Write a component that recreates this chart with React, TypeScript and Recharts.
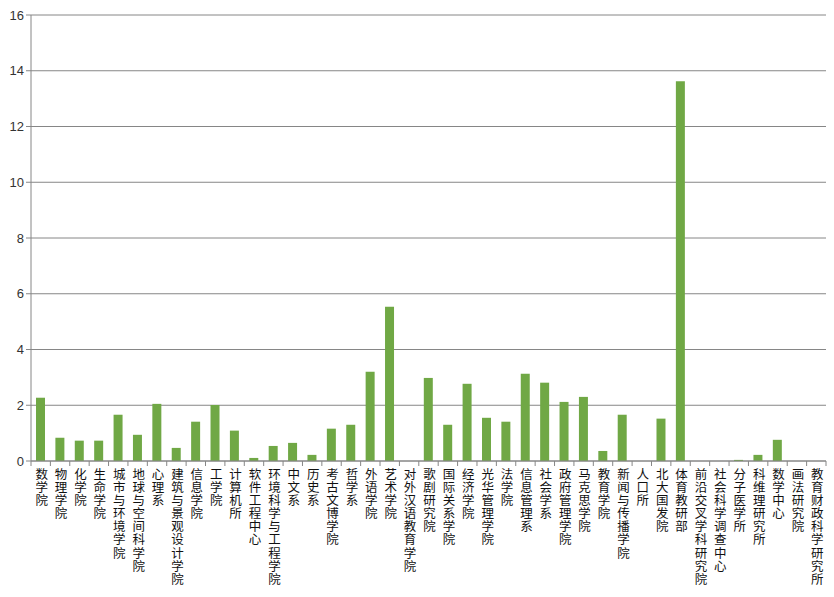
import React from 'react';
import { BarChart, Bar, XAxis, YAxis, CartesianGrid } from 'recharts';

const categories: string[] = [
  '数学院', '物理学院', '化学院', '生命学院', '城市与环境学院', '地球与空间科学院', '心理系',
  '建筑与景观设计学院', '信息学院', '工学院', '计算机所', '软件工程中心', '环境科学与工程学院', '中文系',
  '历史系', '考古文博学院', '哲学系', '外语学院', '艺术学院', '对外汉语教育学院', '歌剧研究院',
  '国际关系学院', '经济学院', '光华管理学院', '法学院', '信息管理系', '社会学系', '政府管理学院',
  '马克思学院', '教育学院', '新闻与传播学院', '人口所', '北大国发院', '体育教研部', '前沿交叉学科研究院',
  '社会科学调查中心', '分子医学所', '科维理研究所', '数学中心', '画法研究院', '教育财政科学研究所',
];

const values: number[] = [
  2.27, 0.83, 0.73, 0.73, 1.66, 0.94, 2.05,
  0.47, 1.41, 2.01, 1.09, 0.11, 0.54, 0.65,
  0.22, 1.16, 1.3, 3.2, 5.53, 0, 2.98,
  1.3, 2.77, 1.55, 1.41, 3.13, 2.81, 2.12,
  2.3, 0.36, 1.66, 0, 1.52, 13.62, 0,
  0, 0.04, 0.22, 0.76, 0, 0,
];

const yTicks: number[] = [0, 2, 4, 6, 8, 10, 12, 14, 16];

const data = categories.map((name, i) => ({ name, value: values[i] }));

const W = 834;
const H = 597;
const M = { top: 15, right: 8, left: 0, bottom: 0 };
const Y_W = 31;
const X_H = 136;
const BAND = (W - M.left - M.right - Y_W) / categories.length;

const AXIS_COLOR = '#868686';

const XTick = (props: any) => {
  const { x, y, payload, index } = props;
  const y0 = y - 8;
  return (
    <g>
      <line x1={x - BAND / 2} y1={y0} x2={x - BAND / 2} y2={y0 + 5} stroke={AXIS_COLOR} strokeWidth={1} />
      {index === categories.length - 1 && (
        <line x1={x + BAND / 2} y1={y0} x2={x + BAND / 2} y2={y0 + 5} stroke={AXIS_COLOR} strokeWidth={1} />
      )}
      <text
        x={x + 1}
        y={y0 + 7}
        textAnchor="start"
        fontSize={12.5}
        fill="#111"
        fontFamily='"Noto Sans CJK SC", sans-serif'
        style={{ writingMode: 'vertical-rl', textOrientation: 'upright', letterSpacing: '0.6px' } as any}
      >
        {String(payload.value)}
      </text>
    </g>
  );
};

export default function App() {
  return (
    <div style={{ position: 'fixed', left: 0, top: 0, width: W, height: H, background: '#fff' }}>
      <BarChart width={W} height={H} data={data} margin={M} barSize={9}>
        <CartesianGrid vertical={false} stroke={AXIS_COLOR} strokeWidth={1} />
        <XAxis
          dataKey="name"
          interval={0}
          height={X_H}
          tick={<XTick />}
          tickLine={false}
          axisLine={{ stroke: AXIS_COLOR }}
        />
        <YAxis
          width={Y_W}
          domain={[0, 16]}
          ticks={yTicks}
          interval={0}
          tickSize={5}
          tickMargin={2}
          tickLine={{ stroke: AXIS_COLOR }}
          axisLine={{ stroke: AXIS_COLOR }}
          tick={{ fontSize: 13, fill: '#333', fontFamily: '"Liberation Sans", Arial, sans-serif' }}
        />
        <Bar dataKey="value" fill="#70a845" isAnimationActive={false} />
      </BarChart>
    </div>
  );
}
